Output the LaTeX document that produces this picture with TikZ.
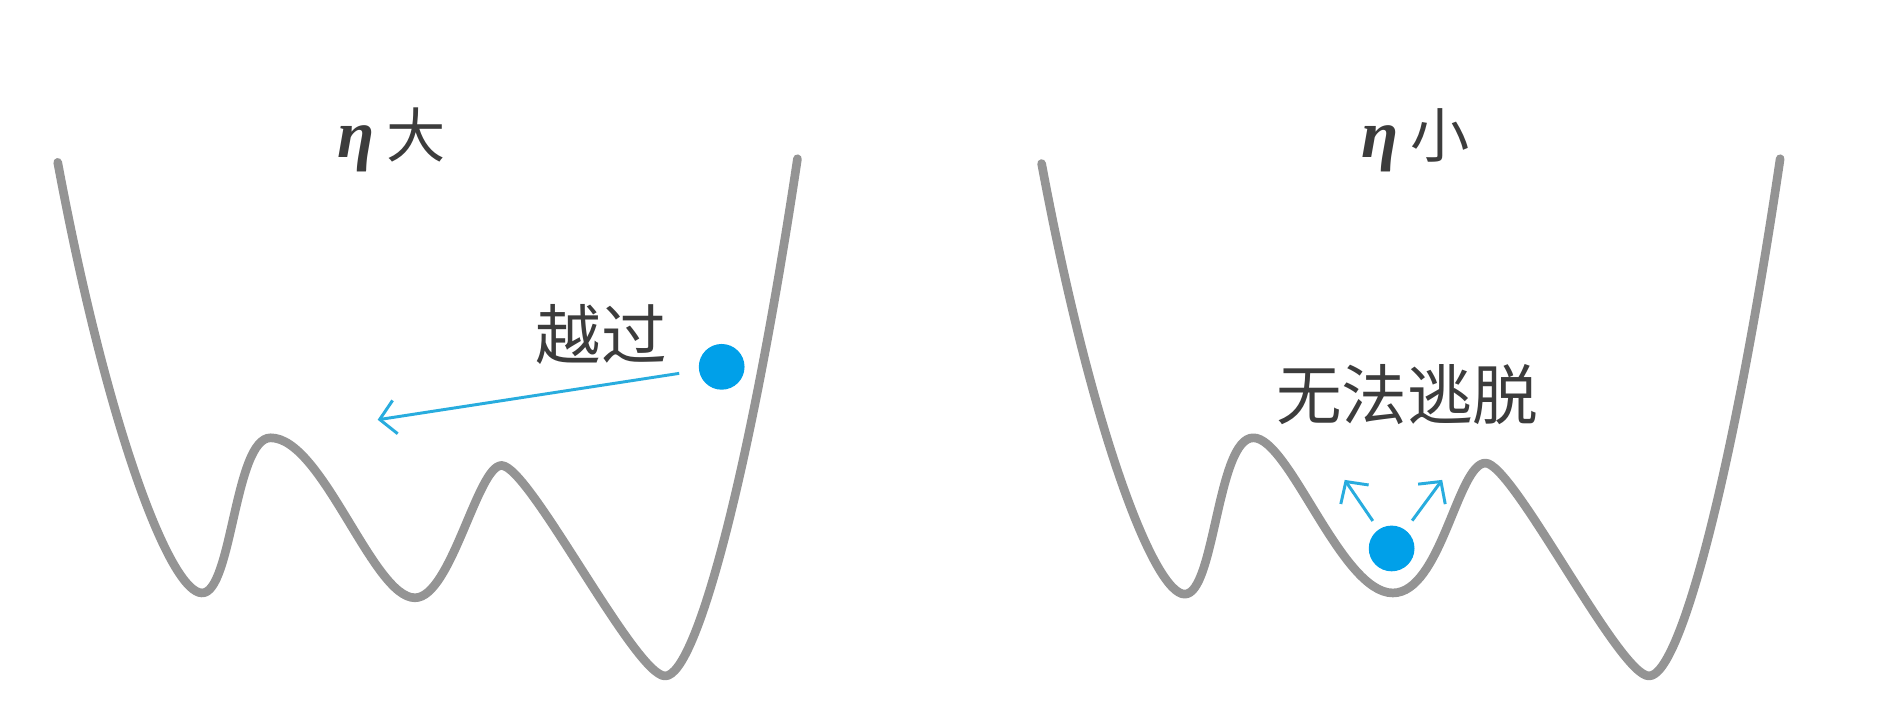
\documentclass[tikz,border=0pt]{standalone}
\usepackage{fontspec}
\usetikzlibrary{arrows.meta}
\newfontfamily\cjk{Noto Sans CJK SC}
\newfontfamily\grk{Liberation Serif}
\definecolor{curvegray}{RGB}{148,148,148}
\definecolor{ballblue}{RGB}{0,160,233}
\definecolor{arrowblue}{RGB}{40,172,222}
\definecolor{txt}{RGB}{60,60,60}
\newcommand{\etasym}{{\grk\bfseries\itshape\fontsize{16}{18}\selectfont η}}
\tikzset{
  well/.style={draw=curvegray, line width=2.05pt, line cap=round, line join=round},
  ball/.style={circle, fill=ballblue, inner sep=0pt, minimum size=0.38cm},
  move/.style={draw=arrowblue, line width=0.7pt, -{Straight Barb[length=1.3mm,width=2.8mm]}},
  label/.style={text=txt, font=\cjk\fontsize{15.5}{18}\selectfont, inner sep=0pt},
  title/.style={text=txt, font=\cjk\fontsize{14}{16}\selectfont, inner sep=0pt, anchor=base west}
}
\begin{document}
\begin{tikzpicture}[x=0.01cm, y=-0.01cm]
\useasboundingbox (0,0) rectangle (1568,589);
% left well
\draw[well] (48,135) .. controls (90,360) and (142,493) .. (168,493)
  .. controls (193,493) and (195,364) .. (225,364)
  .. controls (268,364) and (310,497) .. (345,497)
  .. controls (375,497) and (397,387) .. (417,387)
  .. controls (440,387) and (528,562) .. (553,562)
  .. controls (580,562) and (625.5,382) .. (663,132);
% right well
\draw[well] (866,136) .. controls (908,361) and (960,494) .. (985,494)
  .. controls (1010,494) and (1012,364) .. (1042,364)
  .. controls (1072,364) and (1115,493) .. (1158,493)
  .. controls (1198,493) and (1212,385) .. (1235,385)
  .. controls (1258,385) and (1346,562) .. (1371,562)
  .. controls (1398,562) and (1443,382) .. (1480,132);
% titles
\node[title] (t1) at (280,131) {\etasym\hspace{0.1cm}大};
\node[title] (t2) at (1131,131) {\etasym\hspace{0.1cm}小};
% left: ball crossing over
\node[ball] (b1) at (600,305) {};
\coordinate (a1) at (314,349);
\draw[move, shorten <=0.16cm] (b1) -- (a1);
\node[label] (l1) at (500,278) {越过};
% right: trapped ball
\node[ball] (b2) at (1157,456) {};
\coordinate (a2) at (1118,399);
\coordinate (a3) at (1199,399);
\draw[move, shorten <=0.08cm] (b2) -- (a2);
\draw[move, shorten <=0.09cm] (b2) -- (a3);
\node[label] (l2) at (1170,328) {无法逃脱};
\end{tikzpicture}
\end{document}
